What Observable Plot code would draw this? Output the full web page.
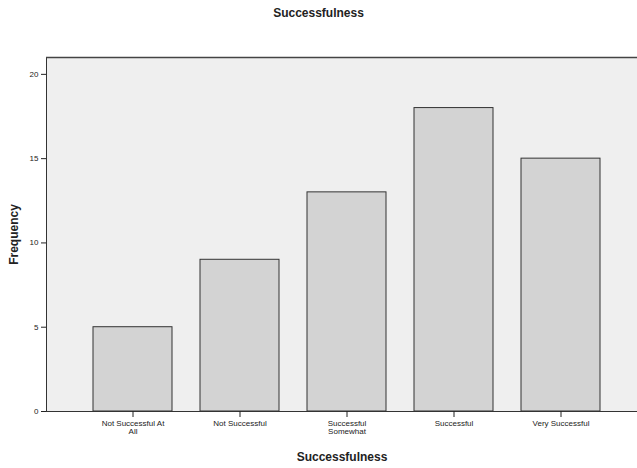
<!DOCTYPE html>
<html><head><meta charset="utf-8">
<script src="https://cdn.jsdelivr.net/npm/d3@7"></script>
<script src="https://cdn.jsdelivr.net/npm/@observablehq/plot@0.6"></script>
<style>
body{margin:0;background:#fff;font-family:"Liberation Sans",Arial,sans-serif;}
#title{height:26px;line-height:26px;text-align:center;font-weight:bold;font-size:12px;color:#222;}
g[aria-label="y-axis label"] text, g[aria-label="x-axis label"] text{font-weight:bold;font-size:12px;fill:#222;}
</style></head><body>
<div id="title">Successfulness</div>
<div id="chart"></div>
<script>
const categories = ["Not Successful At\nAll","Not Successful","Successful\nSomewhat","Successful","Very Successful"];
const frequencies = [5, 9, 13, 18, 15];
const yTicks = [0, 5, 10, 15, 20];
const data = categories.map((c,i)=>({cat:c, n:frequencies[i]}));
const chart = Plot.plot({
  width: 637, height: 442,
  marginTop: 31, marginBottom: 57, marginLeft: 46, marginRight: 0,
  style:{fontFamily:"Liberation Sans, Arial, sans-serif", fontSize:"8px", color:"#222"},
  x:{domain:categories, range:[77, 616], paddingInner:0.26, paddingOuter:0.13},
  y:{domain:[0,21]},
  marks:[
    Plot.frame({fill:"#efefef", stroke:null}),
    Plot.barY(data, {x:"cat", y:"n", fill:"#d3d3d3", stroke:"#333", strokeWidth:1}),
    Plot.frame({anchor:"left", stroke:"#333"}),
    Plot.ruleY([21], {stroke:"#444", strokeWidth:1.5}),
    Plot.ruleY([0], {stroke:"#333"}),
    Plot.axisX({tickSize:6, tickPadding:3, label:"Successfulness", labelAnchor:"center", labelArrow:"none", labelOffset:49}),
    Plot.axisY({ticks:yTicks, tickSize:5, tickPadding:3, label:"Frequency", labelAnchor:"center", labelArrow:"none", labelOffset:37})
  ]
});
document.getElementById("chart").append(chart);
</script>
</body></html>
